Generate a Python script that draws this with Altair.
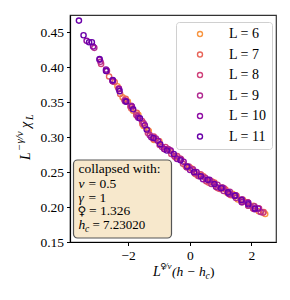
import altair as alt
import pandas as pd

# ---------------- data ----------------
L_values = [6, 7, 8, 9, 10, 11]
colors = ["#f89540", "#e8655a", "#d0417a", "#b12a90", "#8f0da4", "#6a00a8"]

x6 = [-2.35, -2.18, -2.01, -1.84, -1.67, -1.50, -1.33, -1.16, -0.99, -0.82, -0.65, -0.48, -0.31, -0.14, 0.03, 0.20, 0.37, 0.54, 0.71, 0.88, 1.05, 1.22, 1.39, 1.56, 1.73, 1.90, 2.07, 2.24, 2.45]
y6 = [0.373, 0.357, 0.351, 0.338, 0.332, 0.316, 0.309, 0.296, 0.294, 0.283, 0.281, 0.272, 0.269, 0.259, 0.256, 0.247, 0.246, 0.237, 0.237, 0.228, 0.228, 0.220, 0.219, 0.211, 0.210, 0.202, 0.202, 0.194, 0.190]

x7 = [-2.62, -2.44, -2.26, -2.08, -1.90, -1.72, -1.54, -1.36, -1.18, -1.00, -0.82, -0.64, -0.46, -0.28, -0.10, 0.08, 0.26, 0.44, 0.62, 0.80, 0.98, 1.16, 1.34, 1.52, 1.70, 1.88, 2.06, 2.24, 2.40]
y7 = [0.387, 0.379, 0.362, 0.355, 0.341, 0.335, 0.319, 0.310, 0.297, 0.294, 0.283, 0.281, 0.271, 0.268, 0.257, 0.254, 0.245, 0.244, 0.235, 0.235, 0.226, 0.225, 0.217, 0.216, 0.207, 0.207, 0.198, 0.198, 0.193]

x8 = [-2.88, -2.69, -2.50, -2.31, -2.12, -1.93, -1.74, -1.55, -1.36, -1.17, -0.98, -0.79, -0.60, -0.41, -0.22, -0.03, 0.16, 0.35, 0.54, 0.73, 0.92, 1.11, 1.30, 1.49, 1.68, 1.87, 2.06, 2.25, 2.38]
y8 = [0.405, 0.395, 0.380, 0.370, 0.353, 0.344, 0.332, 0.323, 0.306, 0.301, 0.289, 0.286, 0.276, 0.273, 0.262, 0.258, 0.248, 0.247, 0.237, 0.236, 0.227, 0.227, 0.218, 0.217, 0.208, 0.207, 0.198, 0.198, 0.192]

x9 = [-3.10, -2.90, -2.70, -2.50, -2.30, -2.10, -1.90, -1.70, -1.50, -1.30, -1.10, -0.90, -0.70, -0.50, -0.30, -0.10, 0.10, 0.30, 0.50, 0.70, 0.90, 1.10, 1.30, 1.50, 1.70, 1.90, 2.10, 2.30]
y9 = [0.428, 0.408, 0.395, 0.380, 0.369, 0.352, 0.345, 0.330, 0.320, 0.303, 0.298, 0.286, 0.283, 0.273, 0.269, 0.257, 0.254, 0.244, 0.242, 0.233, 0.232, 0.223, 0.222, 0.213, 0.211, 0.202, 0.201, 0.193]

x10 = [-3.35, -3.14, -2.93, -2.72, -2.51, -2.30, -2.09, -1.88, -1.67, -1.46, -1.25, -1.04, -0.83, -0.62, -0.41, -0.20, 0.01, 0.22, 0.43, 0.64, 0.85, 1.06, 1.27, 1.48, 1.69, 1.90, 2.11, 2.22]
y10 = [0.438, 0.430, 0.411, 0.397, 0.381, 0.369, 0.351, 0.344, 0.328, 0.317, 0.300, 0.295, 0.283, 0.281, 0.269, 0.265, 0.253, 0.250, 0.240, 0.239, 0.229, 0.228, 0.219, 0.217, 0.207, 0.206, 0.197, 0.198]

x11 = [-3.60, -3.45, -3.27, -3.18, -2.93, -2.72, -2.50, -2.28, -2.06, -1.84, -1.62, -1.40, -1.18, -0.96, -0.74, -0.52, -0.30, -0.08, 0.14, 0.36, 0.58, 0.80, 1.02, 1.24, 1.46, 1.68, 1.90, 2.12]
y11 = [0.467, 0.446, 0.436, 0.436, 0.412, 0.395, 0.382, 0.366, 0.351, 0.340, 0.327, 0.311, 0.299, 0.290, 0.281, 0.276, 0.267, 0.258, 0.250, 0.244, 0.239, 0.233, 0.227, 0.221, 0.216, 0.210, 0.204, 0.198]

x_ticks = [-2, 0, 2]
y_ticks = [0.15, 0.20, 0.25, 0.30, 0.35, 0.40, 0.45]

box_title = "collapsed with:"
box_syms = ["ν", "γ", "♀", "h"]
box_vals = ["= 0.5", "= 1", "= 1.326", "= 7.23020"]

# ---------------- build table ----------------
rows = []
for L, xs, ys in [(6, x6, y6), (7, x7, y7), (8, x8, y8), (9, x9, y9), (10, x10, y10), (11, x11, y11)]:
    for a, b in zip(xs, ys):
        rows.append({"L": L, "x": a, "y": b})
df = pd.DataFrame(rows)

SERIF = "Liberation Serif"
W, H = 206, 227

points = alt.Chart(df).mark_point(filled=False, size=27, strokeWidth=1.4, opacity=1).encode(
    x=alt.X("x:Q", scale=alt.Scale(domain=[-3.89, 2.80], nice=False, zero=False),
            axis=alt.Axis(values=x_ticks, title=None, format="d")),
    y=alt.Y("y:Q", scale=alt.Scale(domain=[0.15, 0.475], nice=False, zero=False),
            axis=alt.Axis(values=y_ticks, title=None, format=".2f")),
    color=alt.Color("L:N", scale=alt.Scale(domain=L_values, range=colors),
                    legend=alt.Legend(title=None, orient="none", legendX=106, legendY=7,
                                      labelExpr="'L = ' + datum.label",
                                      symbolType="circle", symbolSize=25, symbolStrokeWidth=1.4,
                                      symbolFillColor="transparent",
                                      fillColor="white", strokeColor="#d0d0d0", cornerRadius=3,
                                      padding=5, rowPadding=6.5, symbolOffset=12, labelOffset=22,
                                      labelFont=SERIF, labelFontSize=14, labelColor="black")),
    order=alt.Order("L:Q"),
)


def txt(t, x, y, size=13.5, italic=False, angle=0, font=SERIF):
    kw = dict(align="left", baseline="alphabetic", font=font, fontSize=size, color="black")
    if italic:
        kw["fontStyle"] = "italic"
    if angle:
        kw["angle"] = angle
    return alt.Chart(pd.DataFrame({"t": [t]})).mark_text(**kw).encode(
        x=alt.value(x), y=alt.value(y), text="t:N")


box = alt.Chart(pd.DataFrame({"a": [0]})).mark_rect(
    fill="#f7e8cc", stroke="#555555", strokeWidth=1.2, cornerRadius=4).encode(
    x=alt.value(3.5), x2=alt.value(101.5), y=alt.value(145), y2=alt.value(223))

layers = [points, box]

# text box
layers.append(txt(box_title, 8.5, 158))
layers.append(txt(box_syms[0], 8.5, 172.5, italic=True))
layers.append(txt(box_vals[0], 18.5, 172.5))
layers.append(txt(box_syms[1], 8.5, 186.5, italic=True))
layers.append(txt(box_vals[1], 18.5, 186.5))
layers.append(txt(box_syms[2], 7.5, 200, size=12, font="DejaVu Sans"))
layers.append(txt(box_vals[2], 19, 200))
layers.append(txt(box_syms[3], 8.5, 214, italic=True))
layers.append(txt("c", 15, 217, size=9.5, italic=True))
layers.append(txt(box_vals[3], 22.5, 214, size=13))

# x-axis title
layers.append(txt("L", 83, 261, size=14, italic=True))
layers.append(txt("♀", 90, 254, size=8.5, font="DejaVu Sans"))
layers.append(txt("/ν", 95, 254, size=9, italic=True))
layers.append(txt("(h − h", 102, 261, italic=True))
layers.append(txt("c", 135.5, 264, size=9.5, italic=True))
layers.append(txt(")", 140, 261))

# y-axis title (rotated)
layers.append(txt("L", -40, 145, size=14, italic=True, angle=270))
layers.append(txt("−γ/ν", -47, 136, size=11, italic=True, angle=270))
layers.append(txt("χ", -40, 113, size=14, italic=True, angle=270))
layers.append(txt("L", -37, 105, size=10, italic=True, angle=270))

chart = alt.layer(*layers).properties(
    width=W, height=H,
    autosize=alt.AutoSizeParams(type="none"),
    padding={"left": 62, "top": 7, "right": 6, "bottom": 40},
).configure_view(stroke="#333333", strokeWidth=1.2).configure_axis(
    grid=False, domainColor="black", domainWidth=1.2, tickColor="black", tickSize=3.5,
    tickWidth=1, labelFont=SERIF, labelFontSize=13.5, labelColor="black", labelPadding=3,
)

chart.save("out.html", embed_options={"renderer": "svg", "actions": False})
